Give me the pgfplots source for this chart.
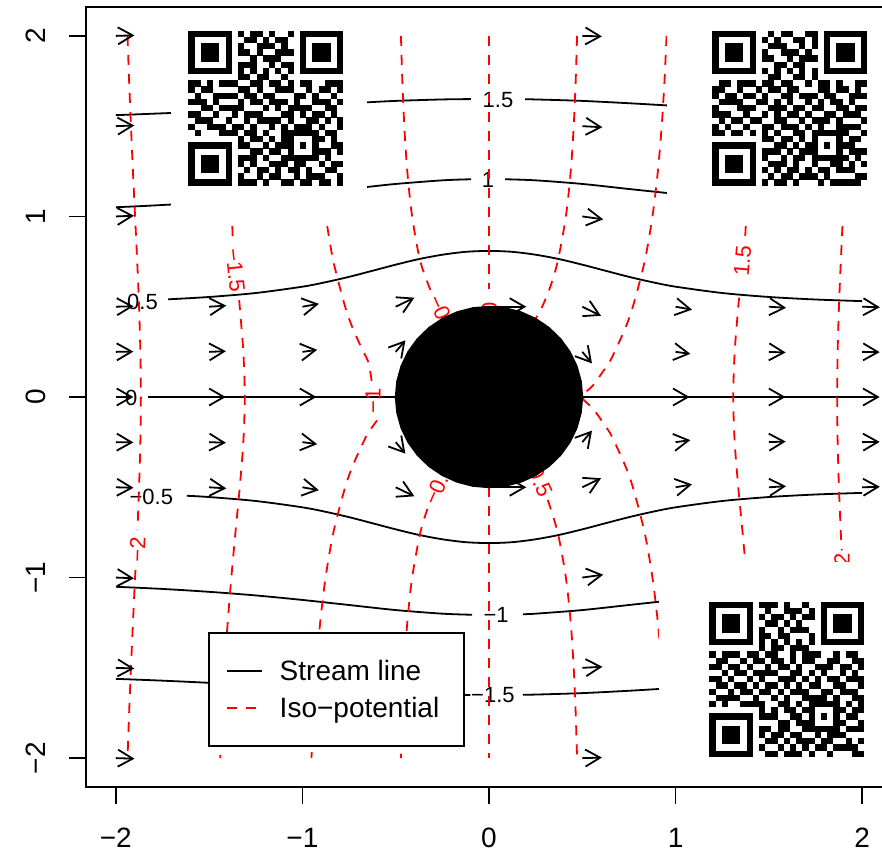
\documentclass[border=0pt]{standalone}
\usepackage{pgfplots}
\pgfplotsset{compat=1.18}
\usepackage{fontspec}
\setmainfont{Liberation Sans}
\usetikzlibrary{arrows.meta}
\newcount\qrr
\newcount\qrc
\newcommand\qrrow[1]{\qrc=0 \qrparse#1\relax\advance\qrr by 1\relax}
\def\qrparse#1{\ifx\relax#1\else\ifx1#1\fill (\the\qrc*3.1pt,-\the\qrr*3.1pt) rectangle ++(3.15pt,-3.15pt);\fi\advance\qrc by 1\relax\expandafter\qrparse\fi}
\def\lab{\fontsize{11}{13}\selectfont}
\begin{document}
\begin{tikzpicture}
\begin{axis}[
  at={(0,0)}, anchor=south west,
  scale only axis, width=403pt, height=390pt,
  xmin=-2.16, xmax=2.16, ymin=-2.16, ymax=2.16,
  axis on top,
  xtick={-2,-1,0,1,2}, xticklabels={−2,−1,0,1,2},
  ytick={-2,-1,0,1,2}, yticklabels={−2,−1,0,1,2},
  xtick pos=left, ytick pos=left,
  tick align=outside, major tick length=8.5pt,
  minor tick num=0,
  tick style={line width=0.9pt, black},
  axis line style={line width=0.9pt},
  tick label style={font=\fontsize{14}{17}\selectfont},
  xticklabel style={anchor=center},
  yticklabel style={rotate=90, anchor=center},
  xticklabel shift=17pt, yticklabel shift=16.5pt,
  every axis plot/.append style={line width=0.9pt},
  legend style={
    at={(axis description cs:0.1514,0.1987)}, anchor=north west,
    draw=black, line width=0.9pt, fill=white,
    inner xsep=8.5pt, inner ysep=12pt,
    font=\fontsize{14}{17}\selectfont,
    row sep=4.5pt, column sep=8.5pt,
    nodes={inner sep=0pt, text height=12pt, text depth=2pt},
  },
  legend cell align=left,
  legend image code/.code={\draw[#1, line width=0.9pt] (0pt,0pt) -- (17.5pt,0pt);},
]
% ---------------- stream lines ----------------
\addplot[black, smooth, forget plot] coordinates {(-2,1.561) (-1.85,1.567) (-1.704,1.573)};
\addplot[black, smooth, forget plot] coordinates {(-0.654,1.632) (-0.5,1.640) (-0.25,1.648) (-0.097,1.650)};
\addplot[black, smooth, forget plot] coordinates {(0.193,1.649) (0.25,1.648) (0.5,1.640) (0.75,1.627) (0.953,1.615)};
\addplot[black, smooth, forget plot] coordinates {(-2,1.051) (-1.85,1.058) (-1.704,1.066)};
\addplot[black, smooth, forget plot] coordinates {(-0.654,1.163) (-0.5,1.180) (-0.25,1.200) (-0.096,1.206)};
\addplot[black, smooth, forget plot] coordinates {(0.086,1.206) (0.25,1.200) (0.5,1.180) (0.75,1.152) (0.953,1.130)};
\addplot[black, smooth, forget plot] coordinates {(-1.72,0.541) (-1.5,0.554) (-1.25,0.576) (-1,0.611) (-0.875,0.636) (-0.75,0.6655) (-0.625,0.699) (-0.5,0.733) (-0.375,0.764) (-0.25,0.788) (-0.125,0.804) (0,0.809) (0.125,0.804) (0.25,0.788) (0.375,0.764) (0.5,0.733) (0.625,0.699) (0.75,0.6655) (0.875,0.636) (1,0.611) (1.25,0.576) (1.5,0.554) (1.75,0.540) (2,0.531)};
\addplot[black, forget plot] coordinates {(-1.83,0) (-0.5,0)};
\addplot[black, forget plot] coordinates {(0.5,0) (2,0)};
\addplot[black, smooth, forget plot] coordinates {(-1.62,-0.547) (-1.5,-0.554) (-1.25,-0.576) (-1,-0.611) (-0.875,-0.636) (-0.75,-0.6655) (-0.625,-0.699) (-0.5,-0.733) (-0.375,-0.764) (-0.25,-0.788) (-0.125,-0.804) (0,-0.809) (0.125,-0.804) (0.25,-0.788) (0.375,-0.764) (0.5,-0.733) (0.625,-0.699) (0.75,-0.6655) (0.875,-0.636) (1,-0.611) (1.25,-0.576) (1.5,-0.554) (1.75,-0.540) (2,-0.531)};
\addplot[black, smooth, forget plot] coordinates {(-2,-1.051) (-1.75,-1.063) (-1.5,-1.079) (-1.25,-1.099) (-1,-1.124) (-0.75,-1.152) (-0.5,-1.180) (-0.25,-1.200) (-0.091,-1.206)};
\addplot[black, smooth, forget plot] coordinates {(0.182,-1.203) (0.25,-1.200) (0.5,-1.180) (0.75,-1.152) (0.911,-1.134)};
\addplot[black, smooth, forget plot] coordinates {(-2,-1.561) (-1.75,-1.571) (-1.5,-1.583) (-1.25,-1.597) (-1,-1.612) (-0.75,-1.627) (-0.5,-1.640) (-0.25,-1.648) (-0.10,-1.650)};
\addplot[black, smooth, forget plot] coordinates {(0.182,-1.649) (0.25,-1.648) (0.5,-1.640) (0.75,-1.627) (0.911,-1.617)};
% labels of stream lines
\node[inner sep=0pt, font=\lab] at (axis cs:0.048,1.645) {1.5};
\node[inner sep=0pt, font=\lab] at (axis cs:-0.005,1.202) {1};
\node[inner sep=0pt, font=\lab] at (axis cs:-1.857,0.528) {0.5};
\node[inner sep=0pt, font=\lab] at (axis cs:-1.918,-0.006) {0};
\node[inner sep=0pt, font=\lab] at (axis cs:-1.81,-0.554) {−0.5};
\node[inner sep=0pt, font=\lab] at (axis cs:0.038,-1.208) {−1};
\node[inner sep=0pt, font=\lab] at (axis cs:0.021,-1.651) {−1.5};
% ---------------- iso-potential lines ----------------
\addplot[red, dash pattern=on 5pt off 4.5pt, smooth, forget plot] coordinates {(-1.9375,2) (-1.9289,1.75) (-1.919,1.5) (-1.9084,1.25) (-1.897,1) (-1.8855,0.75) (-1.8756,0.5) (-1.8686,0.25) (-1.866,0) (-1.8686,-0.25) (-1.8756,-0.5) (-1.884,-0.737)};
\addplot[red, dash pattern=on 5pt off 4.5pt, smooth, forget plot] coordinates {(-1.895,-0.958) (-1.897,-1) (-1.9084,-1.25) (-1.919,-1.5) (-1.9289,-1.75) (-1.9375,-2)};
\addplot[red, dash pattern=on 5pt off 4.5pt, forget plot] coordinates {(-1.376,0.947) (-1.373,0.864)};
\addplot[red, dash pattern=on 5pt off 4.5pt, smooth, forget plot] coordinates {(-1.339,0.537) (-1.336,0.5) (-1.3168,0.25) (-1.309,0) (-1.3168,-0.25) (-1.336,-0.5) (-1.359,-0.75) (-1.381,-1) (-1.4006,-1.25) (-1.417,-1.5) (-1.43,-1.75) (-1.4407,-2)};
\addplot[red, dash pattern=on 5pt off 4.5pt, smooth, forget plot] coordinates {(-0.867,0.947) (-0.834,0.75) (-0.771,0.5) (-0.728,0.375) (-0.673,0.25) (-0.649,0.2) (-0.633,0.12) (-0.627,0.06)};
\addplot[red, dash pattern=on 5pt off 4.5pt, smooth, forget plot] coordinates {(-0.600,-0.13) (-0.649,-0.2) (-0.673,-0.25) (-0.728,-0.375) (-0.771,-0.5) (-0.834,-0.75) (-0.876,-1) (-0.905,-1.25) (-0.9255,-1.5) (-0.9404,-1.75) (-0.9516,-2)};
\addplot[red, dash pattern=on 5pt off 4.5pt, smooth, forget plot] coordinates {(-0.472,2) (-0.4645,1.75) (-0.454,1.5) (-0.438,1.25) (-0.412,1) (-0.368,0.75) (-0.305,0.57)};
\addplot[red, dash pattern=on 5pt off 4.5pt, smooth, forget plot] coordinates {(-0.33,-0.62) (-0.368,-0.75) (-0.412,-1) (-0.438,-1.25) (-0.454,-1.5) (-0.4645,-1.75) (-0.472,-2)};
\addplot[red, dash pattern=on 5pt off 4.5pt, forget plot] coordinates {(0,2) (0,0.6)};
\addplot[red, dash pattern=on 5pt off 4.5pt, forget plot] coordinates {(0,-0.5) (0,-2)};
\addplot[red, dash pattern=on 5pt off 4.5pt, smooth, forget plot] coordinates {(0.472,2) (0.4645,1.75) (0.454,1.5) (0.438,1.25) (0.412,1) (0.368,0.75) (0.325,0.6) (0.285,0.5) (0.26,0.45) (0.24,0.42)};
\addplot[red, dash pattern=on 5pt off 4.5pt, smooth, forget plot] coordinates {(0.315,-0.57) (0.368,-0.75) (0.412,-1) (0.438,-1.25) (0.454,-1.5) (0.4645,-1.75) (0.472,-2)};
\addplot[red, dash pattern=on 5pt off 4.5pt, smooth, forget plot] coordinates {(0.9516,2) (0.9404,1.75) (0.9255,1.5) (0.905,1.25) (0.876,1) (0.834,0.75) (0.771,0.5) (0.728,0.375) (0.673,0.25) (0.649,0.2) (0.60,0.125) (0.556,0.0625) (0.5,0) (0.556,-0.0625) (0.60,-0.125) (0.649,-0.2) (0.673,-0.25) (0.728,-0.375) (0.771,-0.5) (0.834,-0.75) (0.876,-1) (0.905,-1.25) (0.9255,-1.5) (0.9404,-1.75) (0.9516,-2)};
\addplot[red, dash pattern=on 5pt off 4.5pt, forget plot] coordinates {(1.376,0.947) (1.373,0.89)};
\addplot[red, dash pattern=on 5pt off 4.5pt, smooth, forget plot] coordinates {(1.341,0.55) (1.336,0.5) (1.3168,0.25) (1.309,0) (1.3168,-0.25) (1.336,-0.5) (1.359,-0.75) (1.381,-1)};
\addplot[red, dash pattern=on 5pt off 4.5pt, smooth, forget plot] coordinates {(1.8945,0.947) (1.8855,0.75) (1.8756,0.5) (1.8686,0.25) (1.866,0) (1.8686,-0.25) (1.8756,-0.5) (1.8855,-0.75) (1.891,-0.85)};
% labels of iso-potential lines
\node[red, inner sep=0pt, font=\lab, rotate=88] at (axis cs:-1.884,-0.845) {−2};
\node[red, inner sep=0pt, font=\lab, rotate=-84] at (axis cs:-1.36,0.70) {−1.5};
\node[red, inner sep=0pt, font=\lab, rotate=90] at (axis cs:-0.622,-0.02) {−1};
\node[red, inner sep=0pt, font=\lab, rotate=-66] at (axis cs:-0.246,0.449) {−0.5};
\node[red, inner sep=0pt, font=\lab, rotate=66] at (axis cs:-0.271,-0.482) {−0.5};
\node[red, inner sep=0pt, font=\lab, rotate=90] at (axis cs:0.003,0.493) {0};
\node[red, inner sep=0pt, font=\lab, rotate=-66] at (axis cs:0.275,-0.47) {0.5};
\node[red, inner sep=0pt, font=\lab, rotate=85] at (axis cs:1.359,0.753) {1.5};
\node[red, inner sep=0pt, font=\lab, rotate=90] at (axis cs:1.892,-0.897) {2};
% ---------------- velocity arrows ----------------
\addplot[black, forget plot, -{Straight Barb[length=7.4pt,width=8.5pt]},
  quiver={u=\thisrow{u}, v=\thisrow{v}}] table {
x y u v
-2 2 0.1 0.0031
0.5 2 0.1052 -0.0028
-2 1.5 0.0989 0.0038
0.5 1.5 0.108 -0.006
-2 1 0.097 0.004
0.5 1 0.112 -0.016
-2 0.5 0.0948 0.0028
-1.5 0.5 0.092 0.006
-1 0.5 0.088 0.016
-0.5 0.5 0.1 0.05
0 0.5 0.2 0
0.5 0.5 0.1 -0.05
1 0.5 0.088 -0.016
1.5 0.5 0.092 -0.006
2 0.5 0.0948 -0.0028
-2 0.25 0.094 0.0015
-1.5 0.25 0.0898 0.0035
-1 0.25 0.0792 0.0111
-0.5 0.25 0.052 0.064
0.5 0.25 0.052 -0.064
1 0.25 0.0792 -0.0111
1.5 0.25 0.0898 -0.0035
2 0.25 0.094 -0.0015
-2 0 0.0938 0
-1.5 0 0.0889 0
-1 0 0.075 0
1 0 0.075 0
1.5 0 0.0889 0
2 0 0.0938 0
-2 -0.25 0.094 -0.0015
-1.5 -0.25 0.0898 -0.0035
-1 -0.25 0.0792 -0.0111
-0.5 -0.25 0.052 -0.064
0.5 -0.25 0.052 0.064
1 -0.25 0.0792 0.0111
1.5 -0.25 0.0898 0.0035
2 -0.25 0.094 0.0015
-2 -0.5 0.0948 -0.0028
-1.5 -0.5 0.092 -0.006
-1 -0.5 0.088 -0.016
-0.5 -0.5 0.1 -0.05
0 -0.5 0.2 0
0.5 -0.5 0.1 0.05
1 -0.5 0.088 0.016
1.5 -0.5 0.092 0.006
2 -0.5 0.0948 0.0028
-2 -1 0.097 -0.004
0.5 -1 0.112 0.016
-2 -1.5 0.0989 -0.0038
0.5 -1.5 0.108 0.006
-2 -2 0.1 -0.0031
0.5 -2 0.1052 0.0028
};
% ---------------- cylinder ----------------
\addplot[black, fill=black, forget plot] coordinates {(0.5000,0.0000) (0.4924,0.0868) (0.4698,0.1710) (0.4330,0.2500) (0.3830,0.3214) (0.3214,0.3830) (0.2500,0.4330) (0.1710,0.4698) (0.0868,0.4924) (0.0000,0.5000) (-0.0868,0.4924) (-0.1710,0.4698) (-0.2500,0.4330) (-0.3214,0.3830) (-0.3830,0.3214) (-0.4330,0.2500) (-0.4698,0.1710) (-0.4924,0.0868) (-0.5000,0.0000) (-0.4924,-0.0868) (-0.4698,-0.1710) (-0.4330,-0.2500) (-0.3830,-0.3214) (-0.3214,-0.3830) (-0.2500,-0.4330) (-0.1710,-0.4698) (-0.0868,-0.4924) (0.0000,-0.5000) (0.0868,-0.4924) (0.1710,-0.4698) (0.2500,-0.4330) (0.3214,-0.3830) (0.3830,-0.3214) (0.4330,-0.2500) (0.4698,-0.1710) (0.4924,-0.0868)} -- cycle;
% ---------------- white backgrounds of the images ----------------
\fill[white] (axis cs:-1.704,0.947) rectangle (axis cs:-0.654,2.3);
\fill[white] (axis cs:0.953,0.947) rectangle (axis cs:2.3,2.3);
\fill[white] (axis cs:0.911,-2.3) rectangle (axis cs:2.3,-0.912);
% ---------------- legend ----------------
\addlegendimage{black}
\addlegendentry{Stream line}
\addlegendimage{red, dash pattern=on 5pt off 4.5pt}
\addlegendentry{Iso−potential\hspace*{4pt}}
\end{axis}
% ---------------- QR codes ----------------
\begin{scope}[shift={(51.15pt,378.15pt)}]
\qrr=0
\qrrow{1111111 0 1 01101001 0 1111111}
\qrrow{1000001 0 0 11010110 0 1000001}
\qrrow{1011101 0 1 00111010 0 1011101}
\qrrow{1011101 0 1 10100111 0 1011101}
\qrrow{1011101 0 0 01011100 0 1011101}
\qrrow{1000001 0 1 11001011 0 1000001}
\qrrow{1111111 0 1 01010101 0 1111111}
\qrrow{0000000 0 1 10110010 0 0000000}
\qrrow{110101 1 1 0 01101101 01100111}
\qrrow{101100 0 011010011 100101101}
\qrrow{010011 1 101101100 011010010}
\qrrow{111010 0 010110111 010011101}
\qrrow{001101 1 110001010 111100110}
\qrrow{110010 0 101110001 101011010}
\qrrow{011100 1 001011110 100110101}
\qrrow{100111 0 110100101 011101001}
\qrrow{010001 1 101101001 11111 0110}
\qrrow{0000000 0 1 0110101 10001 1010}
\qrrow{1111111 0 1 1001011 10101 0011}
\qrrow{1000001 0 0 0110110 10001 1101}
\qrrow{1011101 0 1 1101001 11111 0100}
\qrrow{1011101 0 1 0100111 01100 1011}
\qrrow{1011101 0 0 1011010 11010 0110}
\qrrow{1000001 0 1 0010110 01011 1001}
\qrrow{1111111 0 1 1101001 10110 1101}
\end{scope}
\begin{scope}[shift={(313.15pt,378.15pt)}]
\qrr=0
\qrrow{1111111 0 0 10110011 0 1111111}
\qrrow{1000001 0 1 01001101 0 1000001}
\qrrow{1011101 0 0 11100101 0 1011101}
\qrrow{1011101 0 1 00111010 0 1011101}
\qrrow{1011101 0 1 10010111 0 1011101}
\qrrow{1000001 0 0 01101100 0 1000001}
\qrrow{1111111 0 1 01010101 0 1111111}
\qrrow{0000000 0 0 11001101 0 0000000}
\qrrow{011011 1 0 1 10110010 11010011}
\qrrow{110010 0 101101100 011011010}
\qrrow{101101 1 010011011 101100111}
\qrrow{011110 0 110101001 010110100}
\qrrow{100011 1 001110110 110011011}
\qrrow{111001 0 010101101 001101110}
\qrrow{010110 1 100110010 111010001}
\qrrow{101001 0 011011101 010011110}
\qrrow{110110 1 010100110 11111 1001}
\qrrow{0000000 0 1 1011010 10001 0110}
\qrrow{1111111 0 0 0110101 10101 1100}
\qrrow{1000001 0 1 1101011 10001 0111}
\qrrow{1011101 0 1 0010110 11111 1010}
\qrrow{1011101 0 0 1110100 10011 0101}
\qrrow{1011101 0 1 0101101 01101 1100}
\qrrow{1000001 0 0 1011011 10100 0011}
\qrrow{1111111 0 1 0110100 01011 1110}
\end{scope}
\begin{scope}[shift={(311.65pt,92.65pt)}]
\qrr=0
\qrrow{1111111 0 1 11010010 0 1111111}
\qrrow{1000001 0 0 10011101 0 1000001}
\qrrow{1011101 0 1 01101011 0 1011101}
\qrrow{1011101 0 0 11010100 0 1011101}
\qrrow{1011101 0 1 00101110 0 1011101}
\qrrow{1000001 0 1 10110001 0 1000001}
\qrrow{1111111 0 1 01010101 0 1111111}
\qrrow{0000000 0 1 01101110 0 0000000}
\qrrow{101110 1 1 0 11001011 10010110}
\qrrow{011001 0 110110101 100110011}
\qrrow{110110 1 001011010 011101101}
\qrrow{001011 0 111100110 101001010}
\qrrow{110100 1 010011101 010110111}
\qrrow{011011 0 101101010 110011001}
\qrrow{100101 1 011010111 001101110}
\qrrow{011110 0 100101001 111010011}
\qrrow{101001 1 110011010 11111 0101}
\qrrow{0000000 0 1 0101101 10001 1011}
\qrrow{1111111 0 1 1100110 10101 0110}
\qrrow{1000001 0 0 0011011 10001 1001}
\qrrow{1011101 0 1 1011001 11111 0111}
\qrrow{1011101 0 1 0110110 01011 1000}
\qrrow{1011101 0 0 1101011 10110 0101}
\qrrow{1000001 0 1 0010101 01101 1110}
\qrrow{1111111 0 0 1101110 10010 0011}
\end{scope}
\pgfresetboundingbox
\path[use as bounding box] (-43pt,-32.5pt) rectangle (398pt,393.5pt);
\end{tikzpicture}
\end{document}
